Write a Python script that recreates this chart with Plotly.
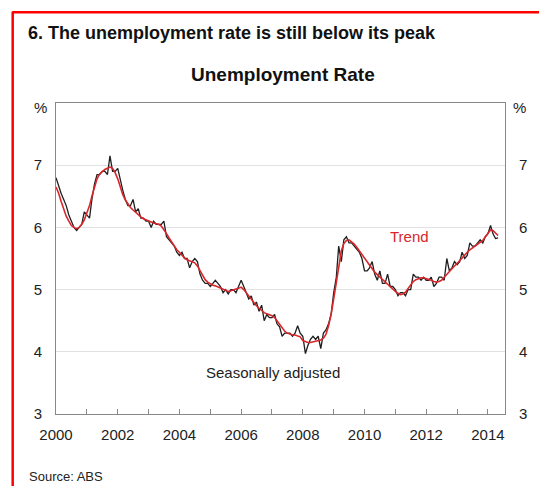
import pandas as pd
import plotly.graph_objects as go

# Seasonally adjusted unemployment rate, monthly from Jan 2000 (%)
sa_2000 = [6.8, 6.65, 6.55, 6.45, 6.35, 6.2, 6.1, 6.0, 5.95, 6.0, 6.05, 6.25]
sa_2001 = [6.2, 6.15, 6.45, 6.7, 6.85, 6.85, 6.9, 6.9, 6.85, 7.15, 6.9, 6.9]
sa_2002 = [6.95, 6.75, 6.6, 6.45, 6.35, 6.35, 6.45, 6.25, 6.3, 6.15, 6.15, 6.1]
sa_2003 = [6.1, 6.0, 6.1, 6.05, 6.05, 6.05, 6.1, 5.85, 5.8, 5.75, 5.7, 5.6]
sa_2004 = [5.55, 5.6, 5.5, 5.5, 5.35, 5.45, 5.5, 5.45, 5.25, 5.15, 5.1, 5.1]
sa_2005 = [5.05, 5.1, 5.15, 5.1, 5.05, 4.95, 5.0, 4.93, 5.0, 5.0, 4.95, 5.05]
sa_2006 = [5.15, 5.05, 4.95, 4.85, 4.9, 4.75, 4.8, 4.65, 4.75, 4.5, 4.6, 4.55]
sa_2007 = [4.55, 4.6, 4.45, 4.4, 4.25, 4.3, 4.3, 4.3, 4.25, 4.3, 4.42, 4.3]
sa_2008 = [4.25, 3.97, 4.1, 4.2, 4.25, 4.2, 4.25, 4.05, 4.3, 4.35, 4.45, 4.6]
sa_2009 = [4.95, 5.2, 5.7, 5.45, 5.8, 5.85, 5.75, 5.75, 5.7, 5.65, 5.6, 5.5]
sa_2010 = [5.3, 5.3, 5.35, 5.45, 5.25, 5.15, 5.3, 5.1, 5.1, 5.25, 5.05, 5.05]
sa_2011 = [5.0, 4.9, 4.95, 4.95, 4.9, 5.0, 5.0, 5.25, 5.2, 5.2, 5.15, 5.2]
sa_2012 = [5.15, 5.15, 5.2, 5.05, 5.1, 5.2, 5.2, 5.15, 5.5, 5.3, 5.35, 5.45]
sa_2013 = [5.4, 5.45, 5.6, 5.5, 5.55, 5.75, 5.7, 5.7, 5.75, 5.8, 5.75, 5.85]
sa_2014 = [5.9, 6.03, 5.9, 5.82, 5.83]

# Trend unemployment rate, monthly from Jan 2000 (%)
tr_2000 = [6.65, 6.55, 6.42, 6.3, 6.18, 6.1, 6.03, 6.0, 5.98, 6.0, 6.05, 6.12]
tr_2001 = [6.22, 6.35, 6.5, 6.65, 6.78, 6.86, 6.9, 6.93, 6.95, 6.97, 6.95, 6.88]
tr_2002 = [6.78, 6.65, 6.53, 6.44, 6.37, 6.32, 6.28, 6.24, 6.2, 6.17, 6.14, 6.12]
tr_2003 = [6.1, 6.08, 6.07, 6.06, 6.05, 6.02, 5.97, 5.9, 5.83, 5.76, 5.7, 5.64]
tr_2004 = [5.6, 5.55, 5.51, 5.48, 5.46, 5.45, 5.43, 5.38, 5.3, 5.22, 5.16, 5.12]
tr_2005 = [5.09, 5.07, 5.06, 5.04, 5.02, 5.0, 4.98, 4.97, 4.98, 5.0, 5.01, 5.02]
tr_2006 = [5.04, 5.0, 4.95, 4.9, 4.84, 4.79, 4.74, 4.7, 4.66, 4.63, 4.61, 4.6]
tr_2007 = [4.58, 4.55, 4.5, 4.44, 4.38, 4.33, 4.3, 4.28, 4.27, 4.27, 4.26, 4.24]
tr_2008 = [4.18, 4.16, 4.15, 4.15, 4.16, 4.17, 4.18, 4.19, 4.22, 4.28, 4.42, 4.6]
tr_2009 = [4.85, 5.12, 5.42, 5.62, 5.74, 5.79, 5.8, 5.77, 5.73, 5.68, 5.62, 5.56]
tr_2010 = [5.5, 5.44, 5.38, 5.33, 5.28, 5.24, 5.2, 5.16, 5.12, 5.08, 5.04, 5.0]
tr_2011 = [4.97, 4.94, 4.92, 4.93, 4.96, 5.02, 5.08, 5.13, 5.16, 5.18, 5.19, 5.19]
tr_2012 = [5.18, 5.17, 5.15, 5.13, 5.12, 5.13, 5.15, 5.2, 5.25, 5.3, 5.34, 5.38]
tr_2013 = [5.42, 5.47, 5.51, 5.55, 5.6, 5.64, 5.67, 5.69, 5.72, 5.75, 5.79, 5.85]
tr_2014 = [5.91, 5.96, 5.95, 5.91, 5.87]

sa = (sa_2000 + sa_2001 + sa_2002 + sa_2003 + sa_2004 + sa_2005 + sa_2006 + sa_2007
      + sa_2008 + sa_2009 + sa_2010 + sa_2011 + sa_2012 + sa_2013 + sa_2014)
trend = (tr_2000 + tr_2001 + tr_2002 + tr_2003 + tr_2004 + tr_2005 + tr_2006 + tr_2007
         + tr_2008 + tr_2009 + tr_2010 + tr_2011 + tr_2012 + tr_2013 + tr_2014)
months = pd.date_range(start="2000-01-01", periods=len(sa), freq="MS")

x_tick_years = [2000, 2002, 2004, 2006, 2008, 2010, 2012, 2014]
y_ticks = [3, 4, 5, 6, 7]

title_text = "6. The unemployment rate is still below its peak"
chart_title = "Unemployment Rate"
source_text = "Source: ABS"

FONT = "Liberation Sans Narrow, Arial Narrow, Liberation Sans, Arial, sans-serif"

fig = go.Figure()
fig.add_trace(go.Scatter(x=months, y=sa, mode="lines", name="Seasonally adjusted",
                         line=dict(color="#1f1f1f", width=1.3)))
fig.add_trace(go.Scatter(x=months, y=trend, mode="lines", name="Trend",
                         line=dict(color="#d8262a", width=1.6)))
# invisible trace for right axis
fig.add_trace(go.Scatter(x=[months[0]], y=[3], yaxis="y2", mode="markers",
                         marker=dict(opacity=0), showlegend=False, hoverinfo="skip"))

W, H = 539, 486
L, R, T, B = 56, 507, 102.5, 414
pw, ph = R - L, B - T


def px(x):
    return (x - L) / pw


def py(y):
    return (B - y) / ph


fig.update_layout(
    width=W, height=H,
    margin=dict(l=L, r=W - R, t=T, b=H - B),
    paper_bgcolor="white", plot_bgcolor="white",
    showlegend=False,
    font=dict(family=FONT, color="#222", size=14),
    xaxis=dict(
        type="date",
        range=["2000-01-01", "2014-07-22"],
        tickvals=[f"{y}-01-01" for y in x_tick_years],
        ticktext=[str(y) for y in x_tick_years],
        ticks="inside", ticklen=5, tickcolor="#888",
        minor=dict(dtick="M12", tick0="2000-01-01", ticks="inside", ticklen=5,
                   tickcolor="#888", showgrid=False),
        showgrid=False, showline=True, linecolor="#888", linewidth=1, mirror=True,
        tickfont=dict(size=15, family=FONT, color="#222"),
        ticklabelstandoff=7,
    ),
    yaxis=dict(
        range=[3, 8], tickvals=y_ticks, ticks="",
        showgrid=True, gridcolor="#e2e2e2", gridwidth=1,
        showline=True, linecolor="#888", linewidth=1,
        zeroline=False,
        tickfont=dict(size=15, family=FONT, color="#222"),
        ticklabelstandoff=10,
    ),
    yaxis2=dict(
        range=[3, 8], tickvals=y_ticks, ticks="", overlaying="y", side="right",
        showgrid=False, showline=True, linecolor="#888", linewidth=1,
        zeroline=False,
        tickfont=dict(size=15, family=FONT, color="#222"),
        ticklabelstandoff=10,
    ),
)

# red frame (top and left edges)
fig.add_shape(type="line", xref="paper", yref="paper",
              x0=px(12), x1=px(545), y0=py(11.5), y1=py(11.5),
              line=dict(color="#ff0000", width=2.5))
fig.add_shape(type="line", xref="paper", yref="paper",
              x0=px(12.5), x1=px(12.5), y0=py(11), y1=py(490),
              line=dict(color="#ff0000", width=2.5))

fig.add_annotation(text=f"<b>{title_text}</b>", xref="paper", yref="paper",
                   x=px(26), y=py(32), xanchor="left", yanchor="middle",
                   showarrow=False, font=dict(size=18, family=FONT, color="#111"))
fig.add_annotation(text=f"<b>{chart_title}</b>", xref="paper", yref="paper",
                   x=px(284), y=py(74), xanchor="center", yanchor="middle",
                   showarrow=False, font=dict(size=19, family=FONT, color="#111"))
fig.add_annotation(text="%", xref="paper", yref="paper",
                   x=px(40), y=py(107), xanchor="center", yanchor="middle",
                   showarrow=False, font=dict(size=15, family=FONT, color="#222"))
fig.add_annotation(text="%", xref="paper", yref="paper",
                   x=px(522), y=py(107), xanchor="center", yanchor="middle",
                   showarrow=False, font=dict(size=15, family=FONT, color="#222"))
fig.add_annotation(text="Trend", xref="x", yref="y",
                   x="2011-06-20", y=5.86, xanchor="center", yanchor="middle",
                   showarrow=False, font=dict(size=15, family=FONT, color="#d8262a"))
fig.add_annotation(text="Seasonally adjusted", xref="x", yref="y",
                   x="2007-01-15", y=3.66, xanchor="center", yanchor="middle",
                   showarrow=False, font=dict(size=15, family=FONT, color="#222"))
fig.add_annotation(text=source_text, xref="paper", yref="paper",
                   x=px(27), y=py(477), xanchor="left", yanchor="middle",
                   showarrow=False, font=dict(size=13, family=FONT, color="#222"))

fig.write_html("out.html")
